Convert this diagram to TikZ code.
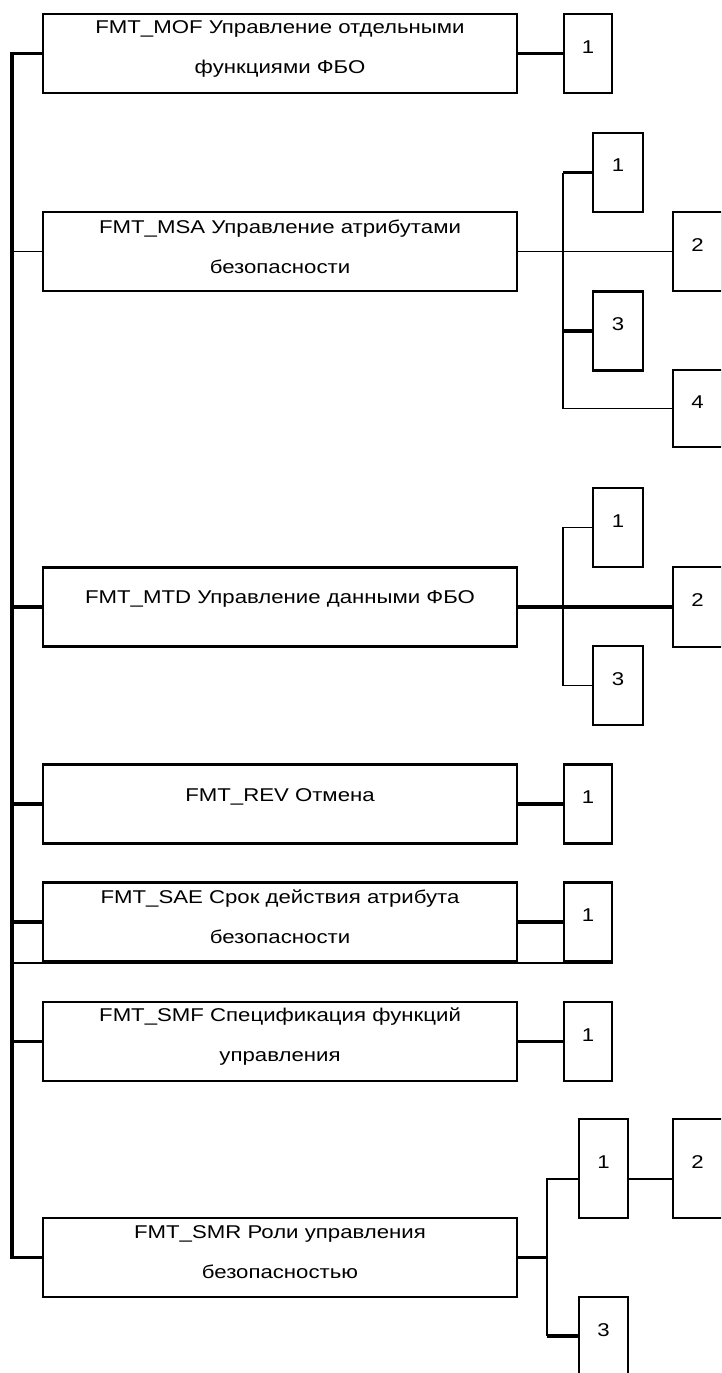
\documentclass[tikz,border=0pt]{standalone}
\usepackage{fontspec}
\setmainfont{Liberation Sans}
\newfontfamily\labfont[FakeStretch=1.2]{Liberation Sans}
\begin{document}
\begin{tikzpicture}[x=1pt,y=-1pt,
  mbox/.style={draw=black,line width=2.4pt,fill=white,minimum width=474pt,minimum height=79pt,inner sep=0pt},
  sbox/.style={draw=black,line width=2.4pt,fill=white,minimum width=48pt,minimum height=79pt,inner sep=0pt},
  txt/.style={font=\labfont\fontsize{18.5}{40}\selectfont,align=center,inner sep=0pt},
  thickline/.style={line width=3.2pt},
  thinline/.style={line width=1.8pt}]
\useasboundingbox (0,0) rectangle (721,1373);
\fill[white] (0,0) rectangle (721,1373);
\clip (0,0) rectangle (721,1373);

% main boxes
\node[mbox] (MOF) at (280,53.5) {};
\node[mbox] (MSA) at (280,251.5) {};
\node[mbox] (MTD) at (280,607) {};
\node[mbox] (REV) at (280,804) {};
\node[mbox] (SAE) at (280,922) {};
\node[mbox] (SMF) at (280,1041.5) {};
\node[mbox] (SMR) at (280,1257.5) {};

% small boxes
\node[sbox] (MOF1) at (588,53.5) {};
\node[sbox] (REV1) at (588,804) {};
\node[sbox] (SAE1) at (588,922) {};
\node[sbox] (SMF1) at (588,1041.5) {};

\node[sbox,minimum width=50pt] (s1) at (618,172.5) {};
\node[sbox,minimum width=49pt] (s2) at (697.5,251.5) {};
\node[sbox,minimum width=50pt] (s3) at (618,331) {};
\node[sbox,minimum width=49pt,minimum height=77pt] (s4) at (697.5,408.5) {};

\node[sbox,minimum width=50pt] (t1) at (618,527.5) {};
\node[sbox,minimum width=49pt,minimum height=80pt] (t2) at (697.5,607) {};
\node[sbox,minimum width=50pt] (t3) at (618,685.5) {};

\node[sbox,minimum width=49pt,minimum height=99pt] (r1) at (603.5,1168.5) {};
\node[sbox,minimum width=49pt,minimum height=99pt] (r2) at (697.5,1168.5) {};
\node[sbox,minimum width=49pt,minimum height=99pt] (r3) at (603.5,1346.5) {};

% texts
\node[txt] (tMOF) at ([yshift=5pt]MOF.center) {FMT\_MOF Управление отдельными\\функциями ФБО};
\node[txt] (tMSA) at ([yshift=5pt]MSA.center) {FMT\_MSA Управление атрибутами\\безопасности};
\node[txt] (tMTD) at ([yshift=8pt]MTD.center) {FMT\_MTD Управление данными ФБО};
\node[txt] (tREV) at ([yshift=7pt]REV.center) {FMT\_REV Отмена};
\node[txt] (tSAE) at ([yshift=5pt]SAE.center) {FMT\_SAE Срок действия атрибута\\безопасности};
\node[txt] (tSMF) at ([yshift=5pt]SMF.center) {FMT\_SMF Спецификация функций\\управления};
\node[txt] (tSMR) at ([yshift=5pt]SMR.center) {FMT\_SMR Роли управления\\безопасностью};

\node[txt] (nMOF1) at ([yshift=6.5pt]MOF1.center) {1};
\node[txt] (nREV1) at ([yshift=6.5pt]REV1.center) {1};
\node[txt] (nSAE1) at ([yshift=6.5pt]SAE1.center) {1};
\node[txt] (nSMF1) at ([yshift=6.5pt]SMF1.center) {1};
\node[txt] (ns1) at ([yshift=7pt]s1.center) {1};
\node[txt] (ns2) at ([yshift=6.5pt]s2.center) {2};
\node[txt] (ns3) at ([yshift=7pt]s3.center) {3};
\node[txt] (ns4) at ([yshift=6pt]s4.center) {4};
\node[txt] (nt1) at ([yshift=6pt]t1.center) {1};
\node[txt] (nt2) at ([yshift=7pt]t2.center) {2};
\node[txt] (nt3) at ([yshift=6pt]t3.center) {3};
\node[txt] (nr1) at (603.5,1162) {1};
\node[txt] (nr2) at (697.5,1162) {2};
\node[txt] (nr3) at (603.5,1330) {3};

% trunk
\coordinate (tt) at (12,53.5);
\coordinate (tb) at (12,1257.5);
\draw[thickline,line join=miter] (MOF.west) -- (tt) -- (tb) -- (SMR.west);
\draw[thinline] (MSA.west) -- (MSA.west -| tt);
\draw[thickline] (MTD.west) -- (MTD.west -| tt);
\draw[thickline] (REV.west) -- (REV.west -| tt);
\draw[thickline] (SAE.west) -- (SAE.west -| tt);
\draw[thickline] (SMF.west) -- (SMF.west -| tt);
\draw[thinline] (SAE.south -| tt) -- (SAE1.south east);

% single children
\draw[thickline] (MOF.east) -- (MOF1.west);
\draw[thickline] (REV.east) -- (REV1.west);
\draw[thickline] (SAE.east) -- (SAE1.west);
\draw[thickline] (SMF.east) -- (SMF1.west);

% MSA group
\coordinate (bs) at (563,172.5);
\draw[thinline] (MSA.east) -- (s2.west);
\draw[thinline] (bs) -- (bs |- s4.west) -- (s4.west);
\draw[thickline] (bs) -- (s1.west);
\draw[thickline] (bs |- s3.west) -- (s3.west);

% MTD group
\coordinate (bt) at (563,527.5);
\draw[thickline] (MTD.east) -- (t2.west);
\draw[thinline] (t1.west) -- (bt) -- (bt |- t3.west) -- (t3.west);

% SMR group
\coordinate (br1) at (547,1179);
\coordinate (br3) at (547,1336);
\draw[thickline] (SMR.east) -- (SMR.east -| br1);
\draw[thinline] (br1 -| r1.west) -- (br1) -- (br3);
\draw[thickline] (br3) -- (br3 -| r3.west);
\draw[thinline] (br1 -| r1.east) -- (br1 -| r2.west);
\end{tikzpicture}
\end{document}
